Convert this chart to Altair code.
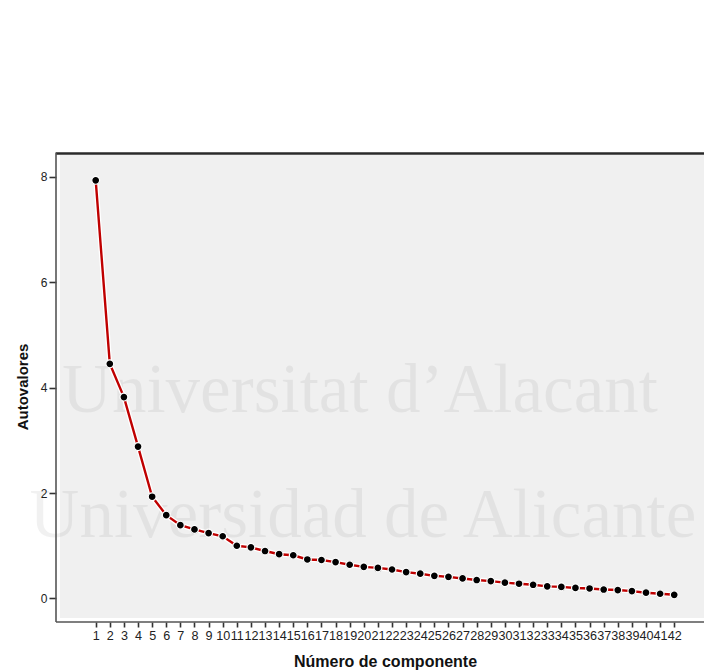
import altair as alt
import pandas as pd

# Scree plot: eigenvalue of each extracted component
componentes = list(range(1, 43))
autovalores = [7.93, 4.45, 3.82, 2.88, 1.93, 1.58, 1.39, 1.31, 1.24, 1.18,
               1.00, 0.97, 0.90, 0.84, 0.82, 0.74, 0.73, 0.69, 0.64, 0.60,
               0.58, 0.55, 0.50, 0.47, 0.43, 0.41, 0.38, 0.35, 0.33, 0.30,
               0.28, 0.26, 0.23, 0.22, 0.20, 0.19, 0.17, 0.16, 0.14, 0.11,
               0.09, 0.07]
y_ticks = [0, 2, 4, 6, 8]
marca_agua = ["Universitat d\u2019Alacant", "Universidad de Alicante"]

df = pd.DataFrame({"componente": componentes, "autovalor": autovalores})

W, H = 644, 463
FONT = "Liberation Sans"

x_enc = alt.X(
    "componente:Q",
    scale=alt.Scale(domain=[-1.53, 44.11], nice=False, zero=False),
    axis=alt.Axis(
        title="Número de componente", values=componentes, format="d",
        labelOverlap=False, labelFlush=False, grid=False, domain=False,
        offset=4, tickSize=5, tickWidth=1.6, tickColor="#333333",
        labelPadding=2, labelFontSize=12.6, labelFont=FONT, labelColor="#222222",
        titleFont=FONT, titleFontSize=16, titleFontWeight="bold",
        titleColor="#111111", titleBaseline="alphabetic",
        titleX=325, titleY=44,
    ),
)
y_enc = alt.Y(
    "autovalor:Q",
    scale=alt.Scale(domain=[-0.37, 8.41], nice=False, zero=False),
    axis=alt.Axis(
        title="Autovalores", values=y_ticks, grid=False, domain=False,
        offset=4, tickSize=7, tickWidth=1.6, tickColor="#333333",
        labelPadding=2, labelFontSize=12, labelFont=FONT, labelColor="#222222",
        titleFont=FONT, titleFontSize=15, titleFontWeight="bold",
        titleColor="#111111", titleBaseline="alphabetic",
        titleX=-29, titleY=H / 2, titleAngle=270,
    ),
)

base = alt.Chart(df)


def watermark(texto, px, py):
    # one faint line of lettering, drawn once
    return alt.Chart(pd.DataFrame({"texto": [texto]})).mark_text(
        font="Liberation Serif", fontSize=69, fill="#000000", fillOpacity=0.055,
        align="center", baseline="alphabetic",
    ).encode(text="texto:N", x=alt.value(px), y=alt.value(py))


wm1 = watermark(marca_agua[0], 300, 257)
wm2 = watermark(marca_agua[1], 303, 382)

# frame lines: top border and offset left/bottom axis lines
frame = alt.Chart(pd.DataFrame({"k": [0]}))
top_rule = frame.mark_rule(color="#2a2a2a", strokeWidth=2.4).encode(
    x=alt.value(-4), x2=alt.value(W), y=alt.value(-1.5))
left_rule = frame.mark_rule(color="#555555", strokeWidth=1.6).encode(
    x=alt.value(-4), y=alt.value(-2.5), y2=alt.value(467))
bottom_rule = frame.mark_rule(color="#555555", strokeWidth=1.6).encode(
    x=alt.value(-4), x2=alt.value(W), y=alt.value(467))

halo = base.mark_line(color="white", strokeWidth=5).encode(x=x_enc, y=y_enc)
line = base.mark_line(color="#bf0000", strokeWidth=2.4).encode(x=x_enc, y=y_enc)
points = base.mark_point(
    filled=True, shape="circle", size=62, color="#000000",
    stroke="white", strokeWidth=1.2, opacity=1,
).encode(x=x_enc, y=y_enc)

chart = alt.layer(
    wm1, wm2, halo, line, points, top_rule, left_rule, bottom_rule
).properties(
    width=W, height=H,
    autosize=alt.AutoSizeParams(type="none"),
    padding={"left": 60, "top": 155, "right": 0, "bottom": 52},
    background="white",
).configure_view(
    fill="#f0f0f0", stroke="transparent", strokeWidth=0,
)

chart.save("out.html", embed_options={"renderer": "svg", "actions": False})
